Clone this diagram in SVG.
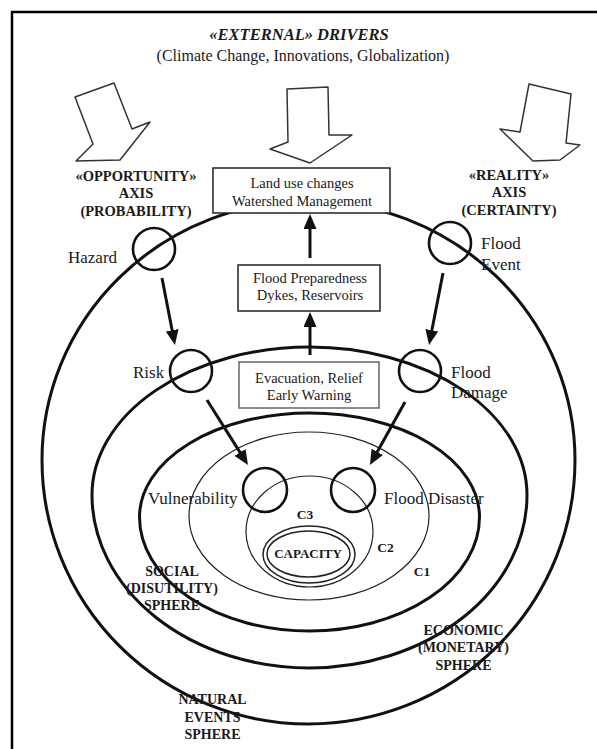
<svg xmlns="http://www.w3.org/2000/svg" width="597" height="749" viewBox="0 0 597 749">
<defs>
<marker id="ah" markerUnits="userSpaceOnUse" markerWidth="15" markerHeight="13" refX="3" refY="6.5" orient="auto">
<path d="M0,0 L15,6.5 L0,13 z" fill="#111"/>
</marker>
<style>
text{font-family:"Liberation Serif","Times New Roman",serif;fill:#1a1a1a}
.lbl{font-size:17px}
.box-t{font-size:14.5px;text-anchor:middle}
.cap{font-size:14.5px;font-weight:bold;text-anchor:middle}
.sph{font-size:14px;font-weight:bold;text-anchor:middle}
.c{font-size:13.5px;font-weight:bold;text-anchor:middle}
.big{fill:none;stroke:#111;stroke-width:3}
.thin{fill:none;stroke:#222;stroke-width:1.2}
.node{fill:none;stroke:#111;stroke-width:2.6}
.box{fill:#fff;stroke:#222;stroke-width:1.5}
.drv{fill:#fff;stroke:#333;stroke-width:1.5;stroke-linejoin:round}
.conn{stroke:#111;stroke-width:3;fill:none;marker-end:url(#ah)}
</style>
</defs>
<rect width="597" height="749" fill="#fff"/>
<path d="M12,749 V12 H597" fill="none" stroke="#000" stroke-width="2.5"/>

<g id="title">
<text x="299" y="40" style="font-size:16.5px;font-weight:bold;font-style:italic;text-anchor:middle">«EXTERNAL» DRIVERS</text>
<text x="303" y="61" style="font-size:16px;text-anchor:middle">(Climate Change, Innovations, Globalization)</text>
</g>

<g id="drivers">
<polygon class="drv" points="75,97 114,83 132,129 150,122 120,160 76,161 93,144"/>
<polygon class="drv" points="287,89 328,87 329,135 352,135 310,163 270,149 288,142"/>
<polygon class="drv" points="529,84 571,94 566,143 580,145 560,160 533,161 500,129 520,132"/>
</g>

<g id="spheres">
<path id="natural-ellipse" class="big" d="M42,460 A266.5,259 0 0 1 575,460 A266.5,264 0 0 1 42,460 Z"/>
<path id="economic-ellipse" class="big" d="M92,495 A217.5,148 0 0 1 527,495 A217.5,173 0 0 1 92,495 Z"/>
<path id="social-ellipse" class="big" d="M139.5,517 A170,104 0 0 1 479.5,517 A170,114 0 0 1 139.5,517 Z"/>
<ellipse id="c1-ellipse" class="thin" cx="309" cy="516" rx="120" ry="84"/>
<ellipse id="c2-ellipse" class="thin" cx="309.5" cy="531.5" rx="63.5" ry="55.5"/>
</g>

<g id="capacity">
<ellipse cx="309" cy="554.5" rx="46" ry="28.5" fill="none" stroke="#222" stroke-width="1.5"/>
<ellipse cx="308.5" cy="554" rx="41.5" ry="23" fill="none" stroke="#222" stroke-width="1.5"/>
<text x="308" y="558" style="font-size:13px;font-weight:bold;text-anchor:middle">CAPACITY</text>
</g>

<g id="box-landuse">
<rect class="box" x="213" y="168" width="177" height="45"/>
<text class="box-t" x="302" y="188">Land use changes</text>
<text class="box-t" x="302" y="206">Watershed Management</text>
</g>
<g id="box-preparedness">
<rect class="box" x="238" y="265" width="142" height="46"/>
<text class="box-t" x="310" y="283">Flood Preparedness</text>
<text class="box-t" x="310" y="300">Dykes, Reservoirs</text>
</g>
<g id="box-evacuation">
<rect class="box" x="239" y="362" width="140" height="46" style="stroke:#666"/>
<text class="box-t" x="309" y="383">Evacuation, Relief</text>
<text class="box-t" x="309" y="400">Early Warning</text>
</g>

<g id="axis-opportunity">
<text class="cap" x="136" y="181">«OPPORTUNITY»</text>
<text class="cap" x="136" y="198">AXIS</text>
<text class="cap" x="136" y="216">(PROBABILITY)</text>
</g>
<g id="axis-reality">
<text class="cap" x="509" y="180">«REALITY»</text>
<text class="cap" x="509" y="197">AXIS</text>
<text class="cap" x="509" y="215">(CERTAINTY)</text>
</g>

<g id="hazard">
<circle class="node" cx="154" cy="249" r="21"/>
<text class="lbl" x="68" y="263">Hazard</text>
</g>
<g id="flood-event">
<circle class="node" cx="450" cy="243" r="21"/>
<text class="lbl" x="481" y="249">Flood</text>
<text class="lbl" x="481" y="270">Event</text>
</g>
<g id="risk">
<circle class="node" cx="191" cy="371" r="21"/>
<text class="lbl" x="133" y="378">Risk</text>
</g>
<g id="flood-damage">
<circle class="node" cx="420" cy="371" r="21"/>
<text class="lbl" x="451" y="378">Flood</text>
<text class="lbl" x="451" y="398">Damage</text>
</g>
<g id="vulnerability">
<circle class="node" cx="265" cy="490" r="22"/>
<text class="lbl" x="148" y="504">Vulnerability</text>
</g>
<g id="flood-disaster">
<circle class="node" cx="353" cy="490" r="22"/>
<text class="lbl" x="384" y="504">Flood Disaster</text>
</g>

<g id="labels">
<text class="c" x="305" y="519">C3</text>
<text class="c" x="385.5" y="552">C2</text>
<text class="c" x="422" y="576">C1</text>
<text class="sph" x="172" y="576">SOCIAL</text>
<text class="sph" x="172" y="593">(DISUTILITY)</text>
<text class="sph" x="172" y="610">SPHERE</text>
<text class="sph" x="463.5" y="635">ECONOMIC</text>
<text class="sph" x="463.5" y="652">(MONETARY)</text>
<text class="sph" x="463.5" y="670">SPHERE</text>
<text class="sph" x="212.5" y="704">NATURAL</text>
<text class="sph" x="212.5" y="722">EVENTS</text>
<text class="sph" x="212.5" y="739">SPHERE</text>
</g>

<g id="connectors">
<line class="conn" x1="162" y1="278" x2="172.7" y2="333.2"/>
<line class="conn" x1="443" y1="273" x2="431.3" y2="333.2"/>
<line class="conn" x1="207" y1="400" x2="241.6" y2="454.9"/>
<line class="conn" x1="405" y1="402" x2="375.8" y2="454.5"/>
<line class="conn" x1="310" y1="258" x2="310" y2="226"/>
<line class="conn" x1="310" y1="355" x2="310" y2="324"/>
</g>
</svg>
